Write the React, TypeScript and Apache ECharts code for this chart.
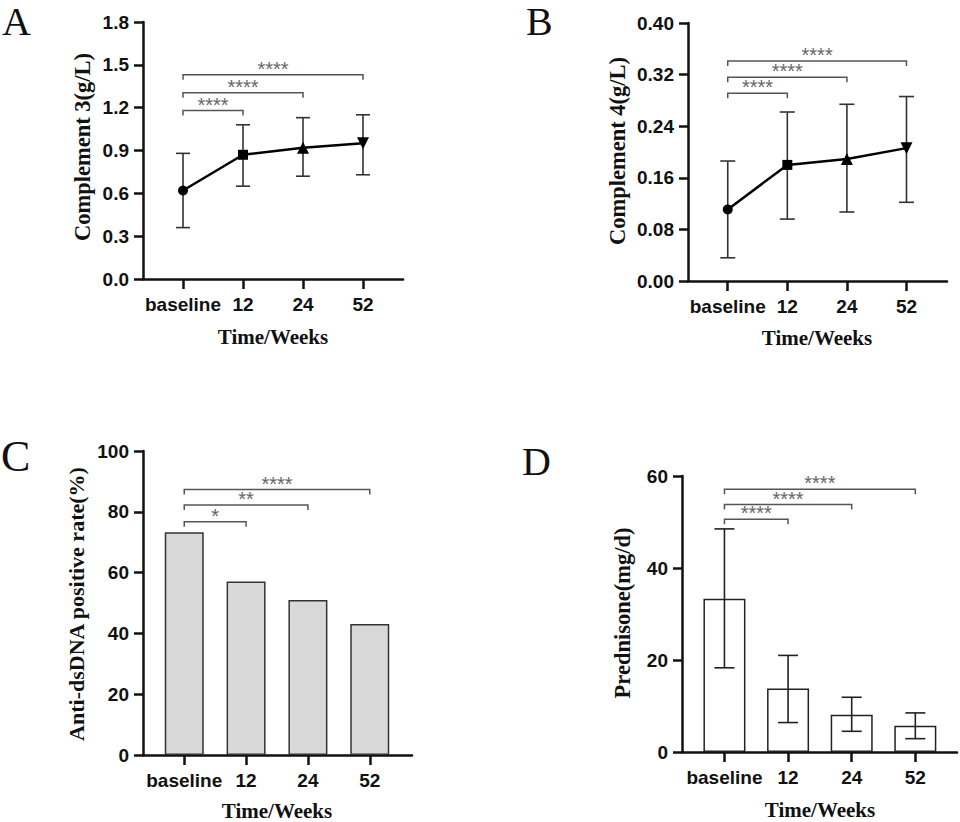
import React, { useEffect, useRef } from "react";
import * as echarts from "echarts";

const categories = ["baseline", "12", "24", "52"];
const catIdx = [0, 1, 2, 3];

const c3Mean = [0.62, 0.87, 0.92, 0.95];
const c3Low = [0.36, 0.65, 0.72, 0.73];
const c3High = [0.88, 1.08, 1.13, 1.15];

const c4Mean = [0.111, 0.18, 0.189, 0.206];
const c4Low = [0.036, 0.096, 0.107, 0.122];
const c4High = [0.186, 0.262, 0.274, 0.286];

const dsDNARate = [73.3, 57.1, 51.0, 43.1];

const predMean = [33.3, 13.8, 8.1, 5.7];
const predLow = [18.3, 6.4, 4.5, 2.9];
const predHigh = [48.5, 21.0, 11.9, 8.5];

// significance brackets: [from, to, height]
const sigA = [[0, 1, 1.18], [0, 2, 1.305], [0, 3, 1.43]];
const sigALabels = ["****", "****", "****"];
const sigB = [[0, 1, 0.291], [0, 2, 0.316], [0, 3, 0.341]];
const sigBLabels = ["****", "****", "****"];
const sigC = [[0, 1, 76.7], [0, 2, 82.2], [0, 3, 87.3]];
const sigCLabels = ["*", "**", "****"];
const sigD = [[0, 1, 50.6], [0, 2, 53.8], [0, 3, 57.1]];
const sigDLabels = ["****", "****", "****"];

const markerShapes = ["circle", "rect", "triangle", "triangle"];
const markerRotate = [0, 0, 0, 180];
const markerSizes = [10, 10, 12, 12];

const SANS = "Liberation Sans";
const SERIF = "Liberation Serif";
const AX = "#111";

function xAxisFor(gridIndex: number, max: number) {
  return {
    type: "value",
    gridIndex,
    min: -0.667,
    max,
    axisLine: { show: true, onZero: false, lineStyle: { color: AX, width: 2.5 } },
    axisTick: { show: true, customValues: catIdx, length: 10, lineStyle: { color: AX, width: 2.5 } },
    axisLabel: {
      customValues: catIdx,
      formatter: (v: number) => categories[Math.round(v)] ?? "",
      margin: 16,
      fontFamily: SANS,
      fontWeight: "bold",
      fontSize: 19,
      color: AX,
    },
    splitLine: { show: false },
  };
}

function yAxisFor(gridIndex: number, max: number, interval: number, digits: number) {
  return {
    type: "value",
    gridIndex,
    min: 0,
    max,
    interval,
    axisLine: { show: true, onZero: false, lineStyle: { color: AX, width: 2.5 } },
    axisTick: { show: true, length: 9, lineStyle: { color: AX, width: 2.5 } },
    axisLabel: {
      formatter: (v: number) => v.toFixed(digits),
      margin: 14,
      fontFamily: SANS,
      fontWeight: "bold",
      fontSize: 19,
      color: AX,
    },
    splitLine: { show: false },
  };
}

function errorSeries(idx: number, low: number[], high: number[], capHalf: number, color: string) {
  return {
    type: "custom",
    xAxisIndex: idx,
    yAxisIndex: idx,
    z: 4,
    encode: { x: 0, y: [1, 2] },
    data: low.map((lo, i) => [i, lo, high[i]]),
    renderItem: (params: any, api: any) => {
      const x = api.value(0);
      const pLo = api.coord([x, api.value(1)]);
      const pHi = api.coord([x, api.value(2)]);
      const st = { stroke: color, lineWidth: 1.6 };
      return {
        type: "group",
        children: [
          { type: "line", shape: { x1: pLo[0], y1: pLo[1], x2: pHi[0], y2: pHi[1] }, style: st },
          { type: "line", shape: { x1: pHi[0] - capHalf, y1: pHi[1], x2: pHi[0] + capHalf, y2: pHi[1] }, style: st },
          { type: "line", shape: { x1: pLo[0] - capHalf, y1: pLo[1], x2: pLo[0] + capHalf, y2: pLo[1] }, style: st },
        ],
      };
    },
  };
}

function sigSeries(idx: number, data: number[][], labels: string[]) {
  return {
    type: "custom",
    xAxisIndex: idx,
    yAxisIndex: idx,
    z: 6,
    encode: { x: [0, 1], y: 2 },
    data,
    renderItem: (params: any, api: any) => {
      const p1 = api.coord([api.value(0), api.value(2)]);
      const p2 = api.coord([api.value(1), api.value(2)]);
      const drop = 5;
      return {
        type: "group",
        children: [
          {
            type: "polyline",
            shape: { points: [[p1[0], p1[1] + drop], [p1[0], p1[1]], [p2[0], p2[1]], [p2[0], p2[1] + drop]] },
            style: { stroke: "#555", lineWidth: 1.5, fill: "none" },
          },
          {
            type: "text",
            style: {
              text: labels[params.dataIndex],
              x: (p1[0] + p2[0]) / 2,
              y: p1[1] - 6,
              align: "center",
              verticalAlign: "middle",
              fill: "#666",
              fontSize: 20,
              fontFamily: SANS,
            },
          },
        ],
      };
    },
  };
}

function lineSeries(idx: number, mean: number[]) {
  return {
    type: "line",
    xAxisIndex: idx,
    yAxisIndex: idx,
    z: 5,
    data: mean.map((v, i) => ({
      value: [i, v],
      symbol: markerShapes[i],
      symbolRotate: markerRotate[i],
      symbolSize: markerSizes[i],
    })),
    lineStyle: { color: "#000", width: 2.5 },
    itemStyle: { color: "#000" },
  };
}

function textEl(text: string, x: number, y: number, size: number, bold: boolean, rotate = 0) {
  return {
    type: "text",
    x,
    y,
    rotation: rotate,
    style: {
      text,
      fontFamily: SERIF,
      fontWeight: bold ? "bold" : "normal",
      fontSize: size,
      lineHeight: Math.round(size * 0.9),
      fill: "#111",
      align: bold || rotate ? "center" : "left",
      verticalAlign: "middle",
    },
  };
}

export default function App() {
  const ref = useRef<HTMLDivElement>(null);
  useEffect(() => {
    if (!ref.current) return;
    const chart = echarts.init(ref.current, null, { renderer: "svg" });
    const option = {
      animation: false,
      backgroundColor: "#fff",
      grid: [
        { left: 143, top: 22, width: 260, height: 257 },
        { left: 688, top: 23, width: 259, height: 258 },
        { left: 143, top: 451, width: 269, height: 304 },
        { left: 682, top: 476, width: 275, height: 276 },
      ],
      xAxis: [xAxisFor(0, 3.667), xAxisFor(1, 3.68), xAxisFor(2, 3.683), xAxisFor(3, 3.655)],
      yAxis: [
        yAxisFor(0, 1.8, 0.3, 1),
        yAxisFor(1, 0.4, 0.08, 2),
        yAxisFor(2, 100, 20, 0),
        yAxisFor(3, 60, 20, 0),
      ],
      series: [
        errorSeries(0, c3Low, c3High, 7, "#333"),
        lineSeries(0, c3Mean),
        sigSeries(0, sigA, sigALabels),
        errorSeries(1, c4Low, c4High, 7.5, "#333"),
        lineSeries(1, c4Mean),
        sigSeries(1, sigB, sigBLabels),
        {
          type: "bar",
          xAxisIndex: 2,
          yAxisIndex: 2,
          barWidth: 39,
          data: dsDNARate.map((v, i) => [i, v]),
          itemStyle: { color: "#d9d9d9", borderColor: "#333", borderWidth: 1.5 },
        },
        sigSeries(2, sigC, sigCLabels),
        {
          type: "bar",
          xAxisIndex: 3,
          yAxisIndex: 3,
          barWidth: 42,
          data: predMean.map((v, i) => [i, v]),
          itemStyle: { color: "#fff", borderColor: "#222", borderWidth: 1.5 },
        },
        errorSeries(3, predLow, predHigh, 10, "#222"),
        sigSeries(3, sigD, sigDLabels),
      ],
      graphic: [
        textEl("A", 2, 21, 40, false),
        textEl("B", 526, 21, 40, false),
        textEl("C", 1, 456, 44, false),
        textEl("D", 522, 461, 40, false),
        textEl("Complement 3(g/L)", 82, 147, 22.5, true, Math.PI / 2),
        textEl("Complement 4(g/L)", 617, 151, 22.5, true, Math.PI / 2),
        textEl("Anti-dsDNA positive rate(%)", 76, 604, 22, true, Math.PI / 2),
        textEl("Prednisone(mg/d)", 622, 613, 22.5, true, Math.PI / 2),
        textEl("Time/Weeks", 273, 337, 21, true),
        textEl("Time/Weeks", 817, 338, 21, true),
        textEl("Time/Weeks", 277, 811, 21, true),
        textEl("Time/Weeks", 820, 810, 21, true),
      ],
    };
    chart.setOption(option as any);
    return () => chart.dispose();
  }, []);
  return (
    <div
      ref={ref}
      style={{ position: "absolute", left: 0, top: 0, width: 960, height: 822, background: "#fff" }}
    />
  );
}
